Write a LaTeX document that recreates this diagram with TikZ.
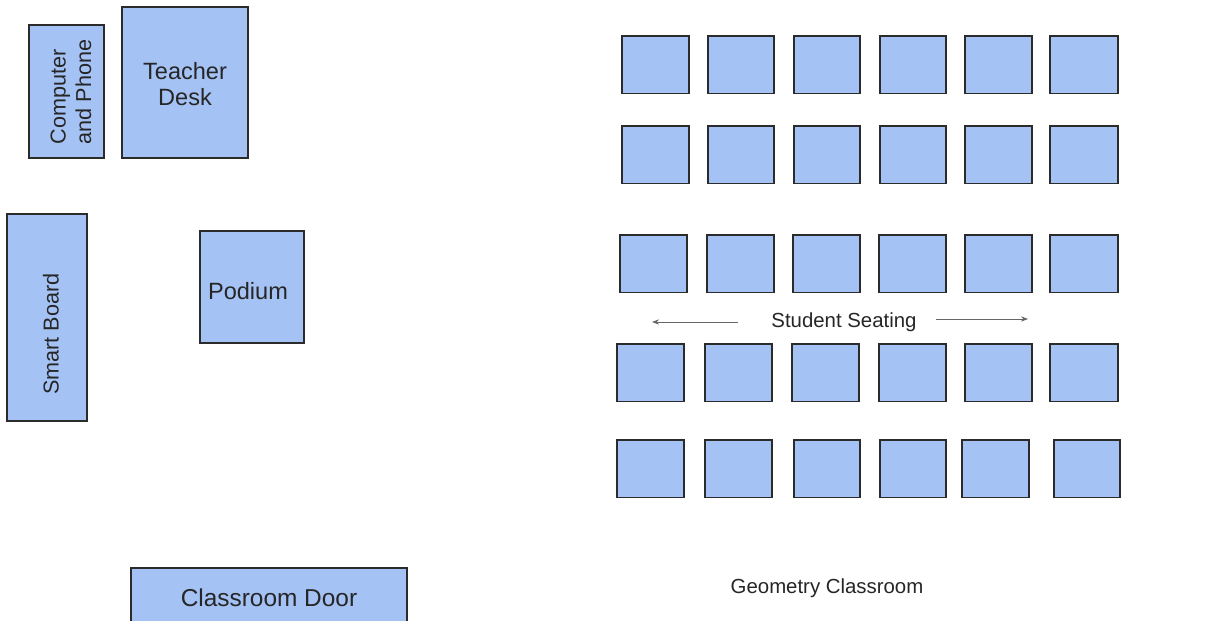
\documentclass[tikz,border=0pt]{standalone}
\usepackage{fontspec}
\setmainfont{Liberation Sans}
\usetikzlibrary{arrows.meta}
\definecolor{deskblue}{HTML}{A4C2F4}
\definecolor{inkline}{HTML}{2B2B2B}
\newcommand{\deskrow}[2]
{   \foreach \a/\b in {#2} \draw[desk] (\a,#1) rectangle (\b,#1+57.5);
}
\begin{document}
\begin{tikzpicture}[x=0.02cm,y=-0.02cm,
  desk/.style={fill=deskblue,draw=inkline,line width=0.7pt},
  tag/.style={text=black!85,inner sep=0pt},
  pointer/.style={draw=gray!80!black,line width=0.5pt,-{Stealth[length=4pt,width=3pt]}}]

 \clip (0,0) rectangle (1217,621);
 \fill[white] (0,0) rectangle (1217,621);

   % front of the room
   \draw[desk] (29,25) rectangle (104,158);
   \draw[desk] (122,7) rectangle (248,158);
   \draw[desk] (7,214) rectangle (87,421);
   \draw[desk] (200,231) rectangle (304,343);
   \draw[desk] (131,568) rectangle (407,640);
   \node[tag,rotate=90,align=left,font=\fontsize{12.3}{14.5}\selectfont] (computer) at (71,92) {Computer\\and Phone};
   \node[tag,align=center,font=\fontsize{13.4}{14.4}\selectfont] (teacher) at (185,84) {Teacher\\Desk};
   \node[tag,rotate=90,font=\fontsize{12.3}{14.5}\selectfont] (smartboard) at (51,334) {Smart Board};
   \node[tag,font=\fontsize{13.4}{16}\selectfont] (podium) at (248,291) {Podium};
   \node[tag,font=\fontsize{13.9}{16}\selectfont] (door) at (269,598) {Classroom Door};

   % student desks
   \deskrow{36}{622/689,708/774,794/860,880/946,965/1032,1050/1118}
   \deskrow{126}{622/689,708/774,794/860,880/946,965/1032,1050/1118}
   \deskrow{235}{620/687,707/774,793/860,879/946,965/1032,1050/1118}
   \deskrow{344}{617/684,705/772,792/859,879/946,965/1032,1050/1118}
   \deskrow{440}{617/684,705/772,794/860,880/946,962/1029,1054/1120}

   \node[tag,font=\fontsize{11.6}{14}\selectfont] (seating) at (844,322) {Student Seating};
   \coordinate (leftfrom) at (738,322);
   \coordinate (leftto) at (652,322);
   \coordinate (rightfrom) at (936,319);
   \coordinate (rightto) at (1028,319);
   \draw[pointer] (leftfrom) -- (leftto);
   \draw[pointer] (rightfrom) -- (rightto);
   \node[tag,font=\fontsize{11.6}{14}\selectfont] (title) at (827,588) {Geometry Classroom};

 \end{tikzpicture}
\end{document}
